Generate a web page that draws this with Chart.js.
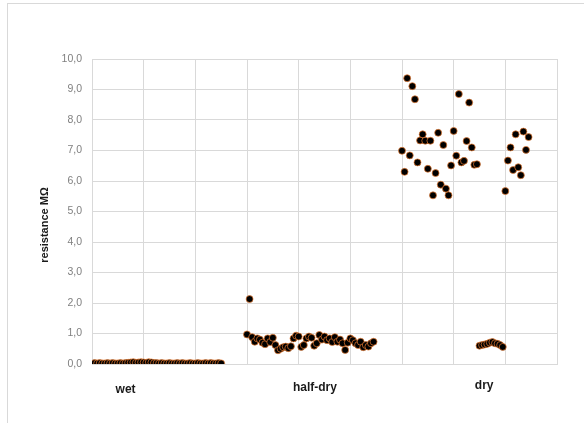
<!DOCTYPE html>
<html>
<head>
<meta charset="utf-8">
<script src="https://cdn.jsdelivr.net/npm/chart.js@4/dist/chart.umd.min.js"></script>
<style>
  html, body { margin: 0; padding: 0; background: #ffffff; }
  #wrap { position: relative; width: 584px; height: 423px; }
</style>
</head>
<body>
<div id="wrap"><canvas id="c" width="584" height="423"></canvas></div>
<script>
// ---- data ----
const categories = ["wet", "half-dry", "dry"];
const yTickLabels = ["0,0","1,0","2,0","3,0","4,0","5,0","6,0","7,0","8,0","9,0","10,0"];

// sample numbers where each group starts
const wetStart = 1;
const halfDryStart = 60;
const dryStart = 120;

const wetValues = [0.03,0.02,0.03,0.02,0.02,0.03,0.02,0.03,0.02,0.02,0.03,0.02,0.03,0.04,0.05,0.06,0.04,0.05,0.06,0.05,0.04,0.06,0.05,0.03,0.03,0.02,0.03,0.02,0.02,0.03,0.02,0.02,0.03,0.02,0.03,0.02,0.02,0.03,0.02,0.02,0.03,0.02,0.02,0.03,0.02,0.03,0.02,0.02,0.03,0.02];

const halfDryValues = [0.97,2.13,0.88,0.73,0.84,0.80,0.70,0.65,0.84,0.72,0.86,0.62,0.45,0.50,0.55,0.57,0.52,0.58,0.84,0.93,0.90,0.56,0.62,0.84,0.90,0.86,0.60,0.68,0.95,0.80,0.90,0.78,0.84,0.72,0.88,0.73,0.80,0.68,0.46,0.70,0.84,0.78,0.68,0.62,0.73,0.55,0.62,0.57,0.68,0.73];

const dryValues = [6.99,6.30,9.37,6.84,9.11,8.68,6.61,7.33,7.53,7.32,6.40,7.32,5.53,6.26,7.58,5.88,7.18,5.75,5.53,6.51,7.64,6.83,8.85,6.61,6.66,7.31,8.57,7.10,6.53,6.55,
  0.60,0.62,0.64,0.66,0.70,0.72,0.68,0.66,0.62,0.56,
  5.67,6.67,7.10,6.36,7.53,6.45,6.19,7.62,7.02,7.44];

// ---- build points ----
function toPoints(start, values) {
  return values.map((v, i) => ({ x: start + i, y: v }));
}
const points = [].concat(
  toPoints(wetStart, wetValues),
  toPoints(halfDryStart, halfDryValues),
  toPoints(dryStart, dryValues)
);

// category label anchors (x in data units)
const categoryAnchors = [13, 86.3, 151.8];

const GRID = '#d9d9d9';

const decorPlugin = {
  id: 'decor',
  beforeDraw(chart) {
    const ctx = chart.ctx;
    ctx.save();
    ctx.fillStyle = '#ffffff';
    ctx.fillRect(0, 0, chart.width, chart.height);
    ctx.strokeStyle = GRID;
    ctx.lineWidth = 1;
    ctx.strokeRect(7.5, 3.5, 640, 480);
    ctx.restore();
  },
  afterDraw(chart) {
    const ctx = chart.ctx;
    const xs = chart.scales.x;
    const area = chart.chartArea;
    ctx.save();
    // y axis title
    ctx.fillStyle = '#1a1a1a';
    ctx.font = 'bold 11px "Liberation Sans", Arial, sans-serif';
    ctx.textAlign = 'center';
    ctx.textBaseline = 'middle';
    ctx.translate(45, 225);
    ctx.rotate(-Math.PI / 2);
    ctx.fillText('resistance MΩ', 0, 0);
    ctx.restore();

    ctx.save();
    ctx.fillStyle = '#1a1a1a';
    ctx.font = 'bold 12px "Liberation Sans", Arial, sans-serif';
    ctx.textAlign = 'center';
    ctx.textBaseline = 'middle';
    const dy = [26, 24, 22];
    categories.forEach((c, i) => {
      ctx.fillText(c, xs.getPixelForValue(categoryAnchors[i]), area.bottom + dy[i]);
    });
    ctx.restore();
  }
};

new Chart(document.getElementById('c'), {
  type: 'scatter',
  data: {
    datasets: [{
      data: points,
      backgroundColor: '#000000',
      borderColor: '#ED7D31',
      borderWidth: 0.7,
      pointRadius: 3.5,
      pointHoverRadius: 3.5,
      pointStyle: 'circle'
    }]
  },
  options: {
    responsive: false,
    animation: false,
    events: [],
    layout: { padding: { left: 0, right: 27, top: 59, bottom: 59 } },
    plugins: {
      legend: { display: false },
      tooltip: { enabled: false }
    },
    scales: {
      x: {
        type: 'linear',
        min: 0,
        max: 180,
        ticks: { display: false, stepSize: 20 },
        grid: { color: GRID, lineWidth: 1, drawTicks: false },
        border: { color: GRID, width: 1 }
      },
      y: {
        type: 'linear',
        min: 0,
        max: 10,
        afterFit(s) { s.width = 92; },
        ticks: {
          stepSize: 1,
          padding: 10,
          color: '#808080',
          font: { family: '"Liberation Sans", Arial, sans-serif', size: 10.5 },
          callback: (v) => yTickLabels[Math.round(v)]
        },
        grid: { color: GRID, lineWidth: 1, drawTicks: false },
        border: { color: GRID, width: 1 }
      }
    }
  },
  plugins: [decorPlugin]
});
</script>
</body>
</html>
